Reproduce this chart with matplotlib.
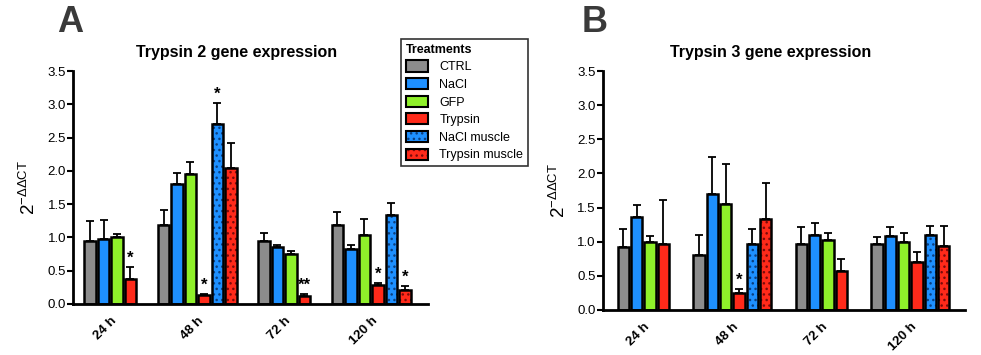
import numpy as np
import matplotlib
matplotlib.use("Agg")
import matplotlib.pyplot as plt
from matplotlib.patches import Patch
from matplotlib.legend_handler import HandlerTuple

plt.rcParams["font.family"] = ["Liberation Sans", "DejaVu Sans"]
plt.rcParams["mathtext.fontset"] = "custom"
plt.rcParams["mathtext.rm"] = "Liberation Sans"

times = ["24 h", "48 h", "72 h", "120 h"]
treatments = ["CTRL", "NaCl", "GFP", "Trypsin", "NaCl muscle", "Trypsin muscle"]
colors = ["#8c8c8c", "#1e90ff", "#8ff02a", "#ff2a1a", "#1e90ff", "#ff2a1a"]
hatched = [False, False, False, False, True, True]
hatch_colors = [None, None, None, None, "#0a3f80", "#7a0a0a"]

nan = np.nan
# Trypsin 2: mean per treatment (rows) and time (cols)
t2_mean = [
    [0.95, 1.18, 0.95, 1.18],
    [0.98, 1.80, 0.85, 0.82],
    [1.00, 1.95, 0.75, 1.04],
    [0.37, 0.13, 0.12, 0.29],
    [nan, 2.71, nan, 1.335],
    [nan, 2.05, nan, 0.205],
]
t2_err = [
    [0.29, 0.24, 0.12, 0.20],
    [0.28, 0.17, 0.04, 0.06],
    [0.05, 0.18, 0.05, 0.23],
    [0.19, 0.02, 0.03, 0.02],
    [nan, 0.31, nan, 0.19],
    [nan, 0.37, nan, 0.07],
]
t2_stars = [("24 h", "Trypsin", "*"), ("48 h", "Trypsin", "*"),
            ("48 h", "NaCl muscle", "*"), ("72 h", "Trypsin", "**"),
            ("120 h", "Trypsin", "*"), ("120 h", "Trypsin muscle", "*")]

# Trypsin 3
t3_mean = [
    [0.92, 0.81, 0.965, 0.965],
    [1.355, 1.70, 1.09, 1.075],
    [0.99, 1.55, 1.02, 0.99],
    [0.97, 0.25, 0.565, 0.695],
    [nan, 0.97, nan, 1.10],
    [nan, 1.335, nan, 0.935],
]
t3_err = [
    [0.26, 0.28, 0.255, 0.105],
    [0.185, 0.545, 0.19, 0.135],
    [0.09, 0.59, 0.105, 0.135],
    [0.645, 0.05, 0.175, 0.145],
    [nan, 0.22, nan, 0.13],
    [nan, 0.52, nan, 0.295],
]
t3_stars = [("48 h", "Trypsin", "*")]


def bar_positions(mean, gap):
    """x position of every bar; groups without muscle bars only take 4 slots."""
    pos = np.full((len(treatments), len(times)), nan)
    start = 0.0
    centers = []
    for j in range(len(times)):
        n = sum(1 for i in range(len(treatments)) if not np.isnan(mean[i][j]))
        for i in range(n):
            pos[i, j] = start + i
        centers.append(start + (n - 1) / 2)
        start += n + gap
    return pos, centers


def draw_panel(ax, mean, err, stars, gap, xlim):
    pos, centers = bar_positions(mean, gap)
    w = 0.85
    for i, name in enumerate(treatments):
        m = np.array(mean[i], dtype=float)
        e = np.array(err[i], dtype=float)
        ok = ~np.isnan(m)
        x = pos[i][ok]
        ax.errorbar(x, m[ok], yerr=[np.zeros(ok.sum()), e[ok]], fmt="none",
                    ecolor="black", elinewidth=1.3, capsize=3, capthick=1.3, zorder=1)
        if hatched[i]:
            ax.bar(x, m[ok], w, color=colors[i], hatch="...", edgecolor=hatch_colors[i],
                   linewidth=0, zorder=2)
            ax.bar(x, m[ok], w, fill=False, edgecolor="black", linewidth=1.8, zorder=3)
        else:
            ax.bar(x, m[ok], w, color=colors[i], edgecolor="black", linewidth=1.8, zorder=2)
    for t, tr, s in stars:
        i, j = treatments.index(tr), times.index(t)
        ax.text(pos[i, j], mean[i][j] + err[i][j] + 0.02, s, ha="center", va="bottom",
                fontsize=12, fontweight="bold")
    ax.set_xticks(centers)
    ax.set_xticklabels(times, rotation=45, ha="right", rotation_mode="anchor",
                       fontweight="bold", fontsize=9.5)
    ax.tick_params(axis="x", length=0, pad=8)
    ax.tick_params(axis="y", length=4, width=1.5, labelsize=9.5, pad=1)
    ax.set_ylim(0, 3.5)
    ax.set_yticks(np.arange(0, 3.51, 0.5))
    ax.set_yticklabels([f"{v:.1f}" for v in np.arange(0, 3.51, 0.5)])
    ax.set_xlim(*xlim)
    for s in ["top", "right"]:
        ax.spines[s].set_visible(False)
    for s in ["left", "bottom"]:
        ax.spines[s].set_linewidth(2)
    ax.set_ylabel("2$^{\\mathregular{-ΔΔCT}}$", fontsize=13.5, labelpad=6)


fig = plt.figure(figsize=(9.81, 3.55), dpi=100)
ax_a = fig.add_axes([0.0744, 0.1437, 0.362, 0.656])
ax_b = fig.add_axes([0.6143, 0.1276, 0.3693, 0.6715])

draw_panel(ax_a, t2_mean, t2_err, t2_stars, 1.45, (-1.265, 25.08))
draw_panel(ax_b, t3_mean, t3_err, t3_stars, 1.68, (-1.55, 25.63))

fig.text(237 / 981, 1 - 52 / 355, "Trypsin 2 gene expression", fontsize=11.5,
         fontweight="bold", ha="center", va="center")
fig.text(771 / 981, 1 - 52 / 355, "Trypsin 3 gene expression", fontsize=11.5,
         fontweight="bold", ha="center", va="center")

fig.text(0.058, 1 - 22 / 355, "A", fontsize=26, fontweight="bold", color="#3a3a3a", va="center")
fig.text(0.593, 1 - 22 / 355, "B", fontsize=26, fontweight="bold", color="#3a3a3a", va="center")

handles = []
for i, name in enumerate(treatments):
    if hatched[i]:
        handles.append((Patch(facecolor=colors[i], hatch="...", edgecolor=hatch_colors[i], linewidth=0),
                        Patch(fill=False, edgecolor="black", linewidth=1.5)))
    else:
        handles.append(Patch(facecolor=colors[i], edgecolor="black", linewidth=1.5))
leg = fig.legend(handles, treatments, title="Treatments", loc="upper left",
                 bbox_to_anchor=(395 / 981, 1 - 33 / 355), fontsize=9, frameon=True, fancybox=False,
                 handler_map={tuple: HandlerTuple(ndivide=1)}, handlelength=1.8,
                 handleheight=1.0, labelspacing=0.38, borderpad=0.35, alignment="left",
                 handletextpad=0.9)
leg.get_title().set_fontweight("bold")
leg.get_title().set_fontsize(9)
leg.get_frame().set_edgecolor("black")
leg.get_frame().set_linewidth(1.2)

fig.savefig("out.png", dpi=100)
